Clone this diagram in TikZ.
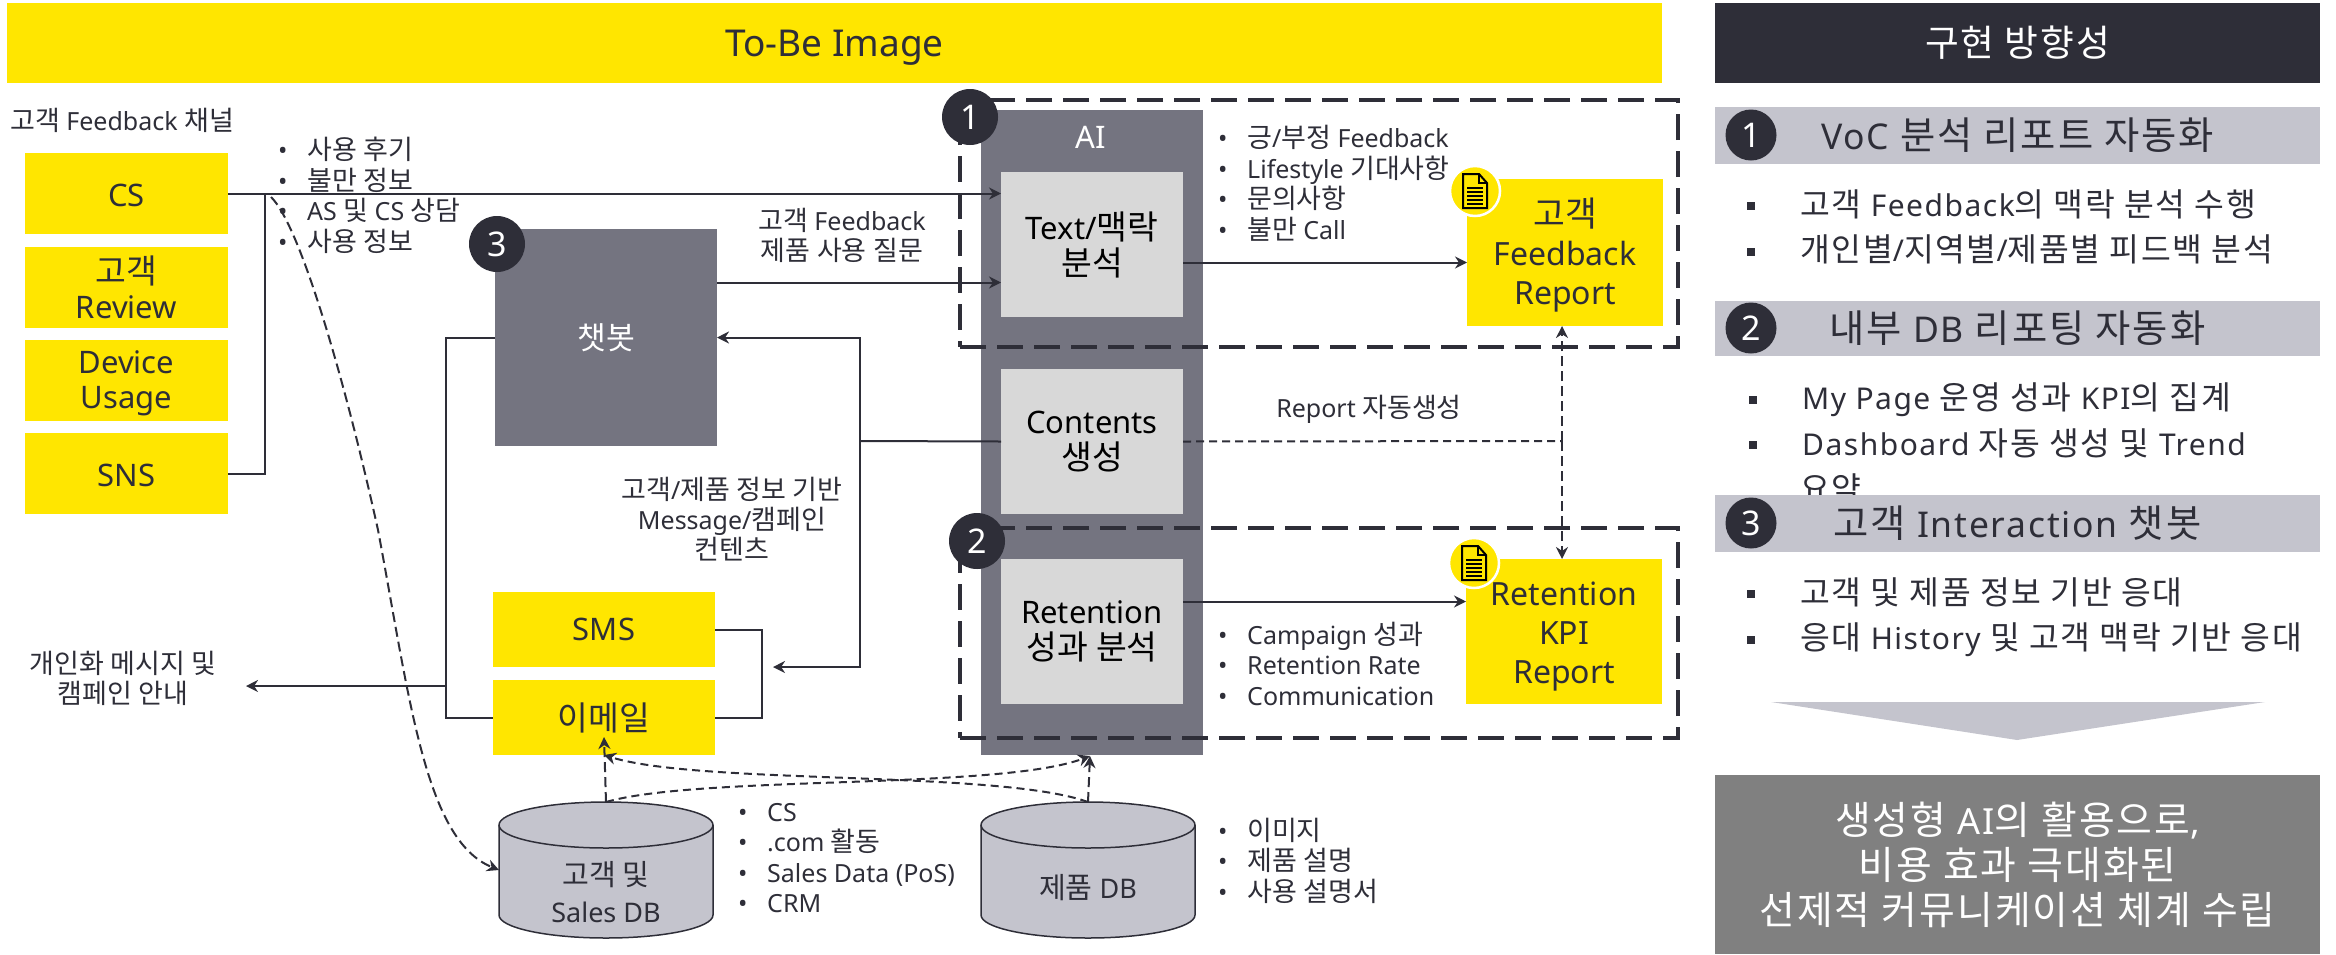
\documentclass[tikz,border=0pt]{standalone}
\usepackage{fontspec}
\setmainfont{Noto Sans}
\newfontfamily\krfont[Scale=1.08]{Noto Sans CJK KR}
\newfontfamily\krwide[Scale=1.08,LetterSpace=5]{Noto Sans CJK KR}
\let\krcur\krfont
\XeTeXinterchartokenstate=1
\newXeTeXintercharclass\hangulclass
\newcount\hangulcode
\hangulcode="AC00
\loop\XeTeXcharclass\hangulcode=\hangulclass\ifnum\hangulcode<"D7A3 \advance\hangulcode by 1 \repeat
\XeTeXinterchartoks 0 \hangulclass={\begingroup\krcur}
\XeTeXinterchartoks 4095 \hangulclass={\begingroup\krcur}
\XeTeXinterchartoks \hangulclass 0={\endgroup}
\XeTeXinterchartoks \hangulclass 4095={\endgroup}
\usetikzlibrary{positioning}
\usetikzlibrary{arrows.meta}
\definecolor{eyyellow}{HTML}{FFE600}
\definecolor{eydark}{HTML}{2E2E38}
\definecolor{eymid}{HTML}{747480}
\definecolor{eylight}{HTML}{C4C4CD}
\definecolor{eypale}{HTML}{D8D8D8}
\definecolor{eygray}{HTML}{808080}
\newcommand{\fsz}[2]{\fontsize{#1}{#2}\selectfont\lineskiplimit=-100pt\relax}
\newcommand{\fwd}[2]{\fsz{#1}{#2}\addfontfeature{LetterSpace=5}\let\krcur\krwide}
\newcommand{\rditem}[1]{\makebox[29pt][l]{•}\strut #1}
\newcommand{\sqitem}[1]{\makebox[53pt][l]{\raisebox{6pt}{\rule{8pt}{8pt}}}\strut #1}
\newcommand{\pushdown}[1]{\rule{0pt}{#1}}
\tikzset{
	>={Stealth[length=12pt,width=12pt]},
	block/.style={
		rectangle,
		align=center,
		inner sep=0pt,
		outer sep=0pt,
		anchor=north west,
		text=eydark
	},
	yellowbox/.style={block, fill=eyyellow, font=\fsz{31}{35}, minimum width=203pt, minimum height=81pt},
	reportbox/.style={block, fill=eyyellow, font=\fsz{32}{39}, minimum width=196pt},
	sendbox/.style={block, fill=eyyellow, font=\fsz{31}{35}, minimum width=222pt, minimum height=75pt},
	palebox/.style={block, fill=eypale, text=black, font=\fsz{31}{36}, minimum width=182pt, minimum height=145pt},
	darkbox/.style={block, fill=eymid, text=white},
	rightbar/.style={block, fill=eylight, minimum width=605pt, font=\fwd{35.5}{38}},
	dashbox/.style={block, draw=eydark, line width=3.5pt, dash pattern=on 26pt off 11pt, minimum width=718pt},
	numdot/.style={circle, fill=eydark, text=white, inner sep=0pt, outer sep=0pt, minimum size=#1, font=\fsz{34}{38}},
	numdot/.default=56pt,
	dbnode/.style={rectangle, inner sep=0pt, outer sep=0pt, minimum width=214pt, minimum height=136pt},
	dbshape/.pic={
		\filldraw[draw=eydark, line width=1.5pt, fill=eylight] (-107,-45) arc[start angle=180, end angle=0, x radius=107pt, y radius=23pt] -- (107,45) arc[start angle=0, end angle=-180, x radius=107pt, y radius=23pt] -- cycle;
		\draw[eydark, line width=1.5pt] (-107,-45) arc[start angle=180, end angle=360, x radius=107pt, y radius=23pt];
	},
	smalllist/.style={align=left, anchor=west, inner sep=0pt, text=eydark, font=\fsz{25}{30.5}},
	biglist/.style={align=left, anchor=west, inner sep=0pt, text=eydark, font=\fwd{30}{45.5}},
	plaintext/.style={align=center, inner sep=0pt, text=eydark, font=\fsz{25}{30}},
	link/.style={draw=eydark, line width=2pt},
	dashlink/.style={link, dash pattern=on 10pt off 5pt},
	denselink/.style={link, dash pattern=on 8pt off 5pt},
	docdot/.style={circle, fill=eyyellow, draw=white, line width=2.5pt, inner sep=0pt, minimum size=50pt},
	docicon/.pic={
		\filldraw[black, line width=2pt, fill=eyyellow] (-12,-17) -- (4,-17) -- (12,-8) -- (12,17) -- (-12,17) -- cycle;
		\draw[black, line width=2pt] (4,-17) -- (4,-8) -- (12,-8);
		\draw[black, line width=1.5pt] (-8,-3) -- (8,-3) (-8,1) -- (8,1) (-8,5) -- (8,5) (-8,9) -- (8,9) (-8,13) -- (8,13);
	}
}

\begin{document}
\begin{tikzpicture}[x=1pt,y=-1pt]
	\useasboundingbox (0,0) rectangle (2336,954);
	\node[block, fill=eyyellow, minimum width=1655pt, minimum height=80pt, text height=26pt, text depth=0pt, font=\fsz{37}{42}] (tobe) at (7,3) {To-Be Image};
	\node[plaintext, anchor=west] (channel) at (10,120) {고객 Feedback 채널};

	\node[yellowbox] (cs) at (25,153) {\pushdown{27pt}CS};
	\node[yellowbox, below=13pt of cs] (review) {고객\\Review};
	\node[yellowbox, below=12pt of review] (usage) {\pushdown{29pt}Device\\Usage};
	\node[yellowbox, below=12pt of usage] (sns) {\pushdown{27pt}SNS};
	\node[smalllist] (channelinfo) at (278,199) {\rditem{사용 후기}\\\rditem{불만 정보}\\\rditem{AS 및 CS 상담}\\\rditem{사용 정보}};

	\node[darkbox, minimum width=222pt, minimum height=217pt, font=\fsz{29}{34}] (chatbot) at (495,229) {챗봇};
	\node[numdot] (num3) at (497,244) {3};
	\node[plaintext] (asktext) at (842,235) {고객 Feedback\\제품 사용 질문};
	\node[plaintext] (msgtext) at (732,519) {고객/제품 정보 기반\\Message/캠페인\\컨텐츠};
	\node[sendbox] (sms) at (493,592) {SMS};
	\node[sendbox, below=13pt of sms] (email) {이메일};
	\node[plaintext] (guide) at (123,678) {개인화 메시지 및\\캠페인 안내};

	\node[darkbox, minimum width=222pt, minimum height=645pt] (aicol) at (981,110) {};
	\node[plaintext, text=white, font=\fsz{31}{36}] (ailabel) at (1091,137) {AI};
	\node[palebox] (textbox) at (1001,172) {Text/맥락\\분석};
	\node[palebox] (contents) at (1001,369) {Contents\\생성};
	\node[palebox] (retention) at (1001,559) {Retention\\성과 분석};

	\node[reportbox, minimum height=147pt] (fbreport) at (1467,179) {\pushdown{34pt}고객\\Feedback\\Report};
	\node[reportbox, minimum height=145pt] (kpireport) at (1466,559) {\pushdown{34pt}Retention\\KPI\\Report};
	\node[smalllist] (fbinfo) at (1218,187) {\rditem{긍/부정 Feedback}\\\rditem{Lifestyle 기대사항}\\\rditem{문의사항}\\\rditem{불만 Call}};
	\node[smalllist] (kpiinfo) at (1218,668) {\rditem{Campaign 성과}\\\rditem{Retention Rate}\\\rditem{Communication}};
	\node[plaintext] (autotext) at (1369,409) {Report 자동생성};

	\node[dashbox, minimum height=247pt] (group1) at (960,100) {};
	\node[dashbox, minimum height=210pt] (group2) at (960,528) {};
	\node[numdot] (num1) at (970,117) {1};
	\node[numdot] (num2) at (977,541) {2};
	\node[docdot] (fbdot) at (1475,191) {};
	\node[docdot] (kpidot) at (1474,563) {};
	\pic at (fbdot.center) {docicon};
	\pic at (kpidot.center) {docicon};

	\node[dbnode] (custdb) at (606,870) {};
	\pic at (custdb.center) {dbshape};
	\node[plaintext, font=\fsz{27}{37}] (custlabel) at (606,892) {고객 및\\Sales DB};
	\node[dbnode] (proddb) at (1088,870) {};
	\pic at (proddb.center) {dbshape};
	\node[plaintext, font=\fsz{27}{37}] (prodlabel) at (1088,888) {제품 DB};
	\node[smalllist] (custinfo) at (738,861) {\rditem{CS}\\\rditem{.com 활동}\\\rditem{Sales Data (PoS)}\\\rditem{CRM}};
	\node[smalllist] (prodinfo) at (1218,864) {\rditem{이미지}\\\rditem{제품 설명}\\\rditem{사용 설명서}};

	\coordinate (csjoin) at (265,194);
	\coordinate (msgjoin) at (446,686);
	\coordinate (msgtip) at (246,686);
	\coordinate (contjoin) at (860,441);
	\coordinate (smsjoin) at (773,667);
	\coordinate (reportjoin) at (1562,441);
	\coordinate (dbtip) at (1090,756);

	\draw[link, ->] (cs.east) -- (cs.east -| textbox.west);
	\draw[link] (sns.east) -| (csjoin);
	\draw[dashlink, ->] ([xshift=6pt,yshift=-3pt]csjoin) .. controls (300,225) and (345,380) .. (378,530) .. controls (410,700) and (425,840) .. (custdb.west);
	\draw[link, ->] ([yshift=55pt]chatbot.east) -- ([yshift=55pt]chatbot.east -| textbox.west);
	\draw[link] (chatbot.west) -- ++(-49,0) |- (email.west);
	\draw[link, ->] (msgjoin) -- (msgtip);
	\draw[link] (sms.east) -- ++(47,0) |- (email.east);
	\draw[link] (contents.west) -- (contjoin);
	\draw[link, ->] (contjoin) |- (chatbot.east);
	\draw[link, ->] (contjoin) |- (smsjoin);
	\draw[link, ->] ([yshift=-18pt]textbox.east) -- ([yshift=-18pt]textbox.east -| fbreport.west);
	\draw[link, ->] ([yshift=30pt]retention.east) -- ([yshift=30pt]retention.east -| kpireport.west);
	\draw[denselink] (contents.east) -- (reportjoin);
	\draw[dashlink, ->] (reportjoin) -- (reportjoin |- fbreport.south);
	\draw[dashlink, ->] (reportjoin) -- (reportjoin |- kpireport.north);
	\draw[dashlink, ->] (custdb.north) -- ([yshift=18pt]email.south);
	\draw[denselink, ->] (custdb.north) .. controls (700,775) and (1000,790) .. (dbtip);
	\draw[dashlink, ->] (proddb.north) -- (dbtip);
	\draw[denselink, ->] (proddb.north) .. controls (1000,770) and (700,785) .. (email.south);

	\node[block, fill=eydark, text=white, minimum width=605pt, minimum height=80pt, font=\fwd{34}{38}] (plan) at (1715,3) {구현 방향성};
	\node[biglist] (list1) at (1747,230) {\sqitem{고객 Feedback의 맥락 분석 수행}\\\sqitem{개인별/지역별/제품별 피드백 분석}};
	\node[biglist] (list2) at (1749,446) {\sqitem{My Page 운영 성과 KPI의 집계}\\\sqitem{Dashboard 자동 생성 및 Trend}\\\makebox[51pt][l]{}\strut 요약};
	\node[biglist] (list3) at (1747,618) {\sqitem{고객 및 제품 정보 기반 응대}\\\sqitem{응대 History 및 고객 맥락 기반 응대}};
	\node[rightbar, minimum height=57pt] (bar1) at (1715,107) {VoC 분석 리포트 자동화};
	\node[rightbar, minimum height=55pt] (bar2) at (1715,301) {내부 DB 리포팅 자동화};
	\node[rightbar, minimum height=57pt] (bar3) at (1715,495) {고객 Interaction 챗봇};
	\node[numdot=51pt] (dot1) at (1751,135) {1};
	\node[numdot=51pt] (dot2) at (1751,328) {2};
	\node[numdot=51pt] (dot3) at (1751,523) {3};
	\fill[eylight] (1771,702) -- (2265,702) -- (2017,740) -- cycle;
	\node[block, fill=eygray, text=white, minimum width=605pt, minimum height=179pt, font=\fwd{36}{45}] (result) at (1715,775) {생성형 AI의 활용으로,\\비용 효과 극대화된\\선제적 커뮤니케이션 체계 수립};
\end{tikzpicture}
\end{document}
